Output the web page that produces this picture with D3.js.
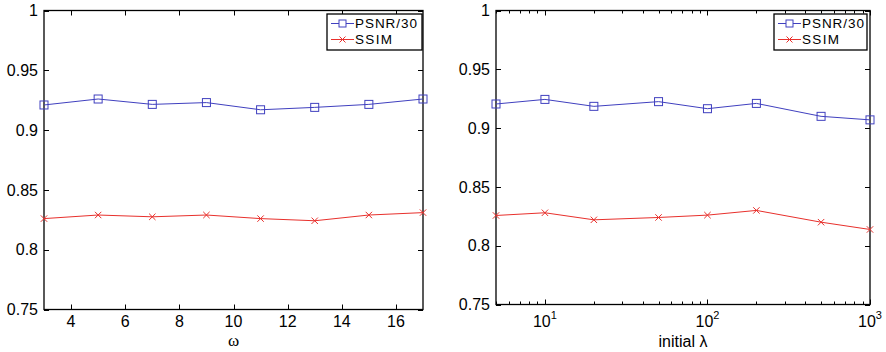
<!DOCTYPE html>
<html>
<head>
<meta charset="utf-8">
<script src="https://cdn.jsdelivr.net/npm/d3@7/dist/d3.min.js"></script>
<style>
  html, body { margin: 0; padding: 0; background: #fff; }
  svg { display: block; }
  text { font-family: "Liberation Sans", Arial, sans-serif; fill: #000; }
</style>
</head>
<body>
<script>
// ---------- data ----------
const omegaValues = [3, 5, 7, 9, 11, 13, 15, 17];
const omegaPSNR = [0.921, 0.926, 0.9215, 0.923, 0.917, 0.919, 0.9215, 0.926];
const omegaSSIM = [0.826, 0.829, 0.8275, 0.829, 0.826, 0.8242, 0.829, 0.831];

const lambdaValues = [5, 10, 20, 50, 100, 200, 500, 1000];
const lambdaPSNR = [0.9205, 0.9244, 0.9185, 0.9225, 0.9165, 0.921, 0.910, 0.907];
const lambdaSSIM = [0.8257, 0.828, 0.822, 0.824, 0.826, 0.830, 0.820, 0.8138];

const yTicks = [0.75, 0.8, 0.85, 0.9, 0.95, 1];
const yTickLabels = ["0.75", "0.8", "0.85", "0.9", "0.95", "1"];
const omegaTicks = [4, 6, 8, 10, 12, 14, 16];
const lambdaMajorTicks = [10, 100, 1000];
const lambdaMajorExp = ["1", "2", "3"];
const lambdaMinorTicks = [5, 6, 7, 8, 9, 20, 30, 40, 50, 60, 70, 80, 90, 200, 300, 400, 500, 600, 700, 800, 900];
const seriesNames = ["PSNR/30", "SSIM"];
const blue = "#4040bf";
const red = "#e8302c";

const W = 886, H = 352;
const svg = d3.select("body").append("svg").attr("width", W).attr("height", H);
svg.append("rect").attr("width", W).attr("height", H).attr("fill", "#fff");

function drawX(g, cx, cy, r) {
  g.append("path").attr("d", `M${cx - r},${cy - r}L${cx + r},${cy + r}M${cx - r},${cy + r}L${cx + r},${cy - r}`)
    .attr("stroke", red).attr("stroke-width", 1).attr("fill", "none");
}

function drawPanel(opt) {
  const { x, y, xs, ps, ss, xLabel, xLabelFont, xLabelSize, xLabelY, xTicks, xTickFormat, minor, legend, yLabelX } = opt;
  const g = svg.append("g");
  const [x0, x1] = x.range();
  const [y0, y1] = y.range();
  const tl = 5;

  const tickG = g.append("g").attr("stroke", "#000").attr("stroke-width", 1);
  yTicks.forEach(v => {
    const yy = Math.round(y(v)) + 0.5;
    tickG.append("line").attr("x1", x0).attr("x2", x0 + tl).attr("y1", yy).attr("y2", yy);
    tickG.append("line").attr("x1", x1).attr("x2", x1 - tl).attr("y1", yy).attr("y2", yy);
  });
  xTicks.forEach(v => {
    const xx = Math.round(x(v)) + 0.5;
    tickG.append("line").attr("x1", xx).attr("x2", xx).attr("y1", y0).attr("y2", y0 - tl);
    tickG.append("line").attr("x1", xx).attr("x2", xx).attr("y1", y1).attr("y2", y1 + tl);
  });
  if (minor) {
    minor.forEach(v => {
      const xx = Math.round(x(v)) + 0.5;
      tickG.append("line").attr("x1", xx).attr("x2", xx).attr("y1", y0).attr("y2", y0 - 3);
      tickG.append("line").attr("x1", xx).attr("x2", xx).attr("y1", y1).attr("y2", y1 + 3);
    });
  }

  g.append("rect").attr("x", x0).attr("y", y1).attr("width", x1 - x0).attr("height", y0 - y1)
    .attr("fill", "none").attr("stroke", "#000").attr("stroke-width", 1.3);

  yTicks.forEach((v, i) => {
    g.append("text").attr("x", yLabelX).attr("y", y(v)).attr("dy", "0.36em")
      .attr("text-anchor", "end").attr("font-size", 16).text(yTickLabels[i]);
  });

  xTicks.forEach((v, i) => xTickFormat(g, x(v), i));

  g.append("text").attr("x", (x0 + x1) / 2).attr("y", xLabelY).attr("text-anchor", "middle")
    .attr("font-size", xLabelSize).style("font-family", xLabelFont).text(xLabel);

  const line = d3.line().x((d, i) => x(xs[i])).y(d => y(d));
  g.append("path").datum(ps).attr("d", line).attr("fill", "none").attr("stroke", blue).attr("stroke-width", 1);
  g.append("path").datum(ss).attr("d", line).attr("fill", "none").attr("stroke", red).attr("stroke-width", 1);
  ps.forEach((v, i) => {
    g.append("rect").attr("x", x(xs[i]) - 4).attr("y", y(v) - 4).attr("width", 8).attr("height", 8)
      .attr("fill", "none").attr("stroke", blue).attr("stroke-width", 1);
  });
  ss.forEach((v, i) => drawX(g, x(xs[i]), y(v), 3.2));

  const lg = g.append("g");
  lg.append("rect").attr("x", legend.x).attr("y", legend.y).attr("width", legend.w).attr("height", legend.h)
    .attr("fill", "#fff").attr("stroke", "#000").attr("stroke-width", 1.3);
  const rows = [legend.y + 9.5, legend.y + 25.5];
  const lx0 = legend.x + 4, lx1 = legend.x + 27, mx = (lx0 + lx1) / 2;
  lg.append("line").attr("x1", lx0).attr("x2", lx1).attr("y1", rows[0]).attr("y2", rows[0]).attr("stroke", blue);
  lg.append("rect").attr("x", mx - 3.5).attr("y", rows[0] - 3.5).attr("width", 7).attr("height", 7)
    .attr("fill", "#fff").attr("stroke", blue);
  lg.append("line").attr("x1", lx0).attr("x2", lx1).attr("y1", rows[1]).attr("y2", rows[1]).attr("stroke", red);
  drawX(lg, mx, rows[1], 3);
  seriesNames.forEach((n, i) => {
    lg.append("text").attr("x", lx1 + 1).attr("y", rows[i]).attr("dy", "0.36em")
      .attr("font-size", 13.5).attr("textLength", i === 0 ? 62 : 37).text(n);
  });
}

const xL = d3.scaleLinear().domain([3, 17]).range([44, 423]);
const yL = d3.scaleLinear().domain([0.75, 1]).range([309.5, 10.5]);
drawPanel({
  x: xL, y: yL, xs: omegaValues, ps: omegaPSNR, ss: omegaSSIM,
  xLabel: "ω", xLabelFont: "'Liberation Serif', serif", xLabelSize: 17, xLabelY: 346,
  xTicks: omegaTicks,
  xTickFormat: (g, px, i) => g.append("text").attr("x", px).attr("y", 327).attr("text-anchor", "middle")
    .attr("font-size", 16).text(omegaTicks[i]),
  minor: null,
  legend: { x: 327, y: 14, w: 95, h: 36 },
  yLabelX: 38
});

const xR = d3.scaleLog().domain([5, 1000]).range([496, 870]);
const yR = d3.scaleLinear().domain([0.75, 1]).range([304.5, 10.5]);
drawPanel({
  x: xR, y: yR, xs: lambdaValues, ps: lambdaPSNR, ss: lambdaSSIM,
  xLabel: "initial λ", xLabelFont: "'Liberation Sans', Arial, sans-serif", xLabelSize: 16, xLabelY: 347,
  xTicks: lambdaMajorTicks,
  xTickFormat: (g, px, i) => {
    const t = g.append("text").attr("x", px).attr("y", 327).attr("text-anchor", "middle").attr("font-size", 16);
    t.append("tspan").text("10");
    t.append("tspan").attr("dy", -8).attr("font-size", 11).text(lambdaMajorExp[i]);
  },
  minor: lambdaMinorTicks,
  legend: { x: 774, y: 14, w: 93, h: 36 },
  yLabelX: 490
});
</script>
</body>
</html>
